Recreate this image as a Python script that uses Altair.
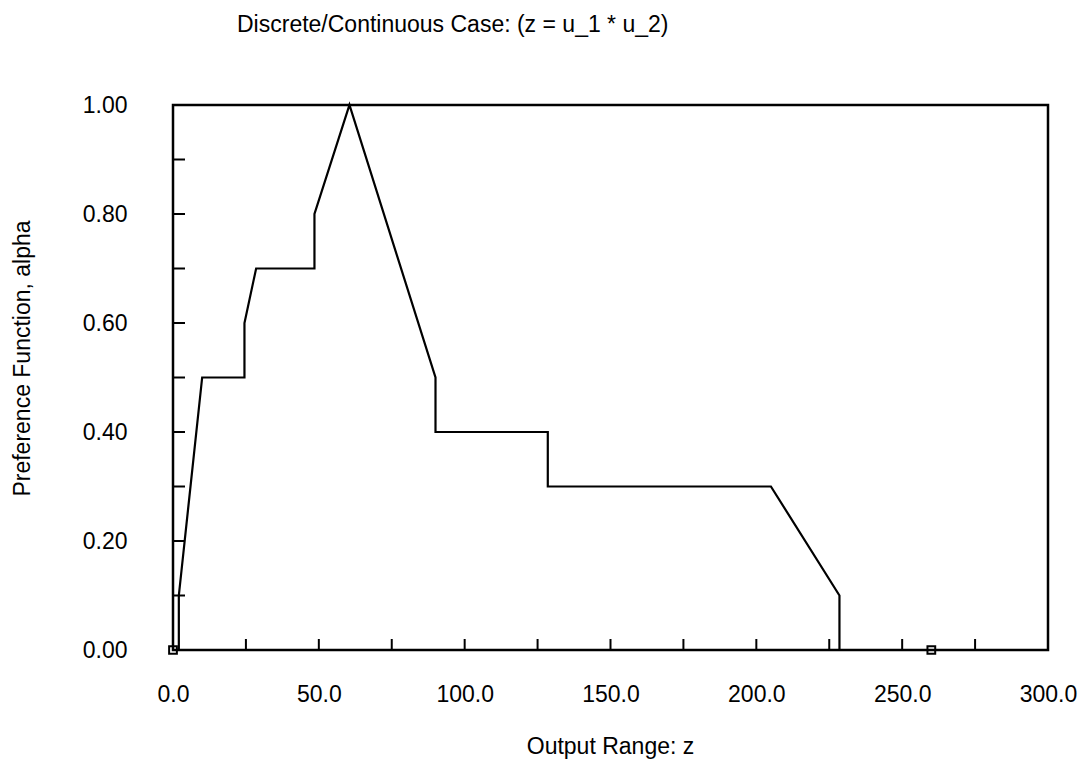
import altair as alt
import pandas as pd

# Curve vertices
z_vals = [0, 2, 2, 10, 24.5, 24.5, 28.5, 48.5, 48.5, 60.5, 90, 90, 128.5, 128.5, 205, 228.5, 228.5]
a_vals = [0, 0, 0.1, 0.5, 0.5, 0.6, 0.7, 0.7, 0.8, 1.0, 0.5, 0.4, 0.4, 0.3, 0.3, 0.1, 0]

# Square markers
sq_z = [0, 260]
sq_a = [0, 0]

# Tick positions / labels
x_labels = [0, 50, 100, 150, 200, 250, 300]
y_labels = [0, 0.2, 0.4, 0.6, 0.8, 1.0]
x_minor = [25, 50, 75, 100, 125, 150, 175, 200, 225, 250, 275]
y_minor = [0.1, 0.2, 0.3, 0.4, 0.5, 0.6, 0.7, 0.8, 0.9]

FONT = "Liberation Sans"
FS = 23
W, H = 875, 545

line_df = pd.DataFrame({"z": z_vals, "a": a_vals, "i": list(range(len(z_vals)))})
sq_df = pd.DataFrame({"z": sq_z, "a": sq_a})
xt_df = pd.DataFrame({"z": x_minor})
yt_df = pd.DataFrame({"a": y_minor})

xscale = alt.Scale(domain=[0, 300], nice=False, zero=False)
yscale = alt.Scale(domain=[0, 1], nice=False, zero=False)

xaxis = alt.Axis(
    values=x_labels, format=".1f", ticks=False, tickSize=0, domain=False, grid=False,
    labelPadding=33, labelFlush=False, labelFont=FONT, labelFontSize=FS, labelColor="black",
    title="Output Range: z", titleFont=FONT, titleFontSize=FS, titleFontWeight="normal",
    titleColor="black", titleX=437, titleY=85, titleAlign="center", titleBaseline="top",
)
yaxis = alt.Axis(
    values=y_labels, format=".2f", ticks=False, tickSize=0, domain=False, grid=False,
    labelPadding=46, labelFlush=False, labelFont=FONT, labelFontSize=FS, labelColor="black",
    title="Preference Function, alpha", titleFont=FONT, titleFontSize=FS,
    titleFontWeight="normal", titleColor="black", titleAngle=-90, titleX=-151, titleY=253,
    titleAlign="center", titleBaseline="middle",
)

line = alt.Chart(line_df).mark_line(color="black", strokeWidth=2.2).encode(
    x=alt.X("z:Q", scale=xscale, axis=xaxis),
    y=alt.Y("a:Q", scale=yscale, axis=yaxis),
    order="i:Q",
)

squares = alt.Chart(sq_df).mark_point(
    shape="square", filled=False, color="black", size=60, strokeWidth=2, opacity=1
).encode(
    x=alt.X("z:Q", scale=xscale, axis=xaxis),
    y=alt.Y("a:Q", scale=yscale, axis=yaxis),
)

xticks = alt.Chart(xt_df).mark_rule(color="black", strokeWidth=2).encode(
    x=alt.X("z:Q", scale=xscale, axis=xaxis),
    y=alt.value(H),
    y2=alt.value(H - 11),
)

yticks = alt.Chart(yt_df).mark_rule(color="black", strokeWidth=2).encode(
    y=alt.Y("a:Q", scale=yscale, axis=yaxis),
    x=alt.value(0),
    x2=alt.value(12),
)

chart = alt.layer(line, xticks, yticks, squares).properties(
    width=W,
    height=H,
    background="white",
    title=alt.TitleParams(
        "Discrete/Continuous Case: (z = u_1 * u_2)",
        anchor="start", frame="group", dx=64, offset=57, font=FONT, fontSize=FS,
        fontWeight="normal", color="black",
    ),
    autosize=alt.AutoSizeParams(type="none"),
    padding={"left": 173, "top": 105, "right": 39, "bottom": 112},
).configure_view(stroke="black", strokeWidth=2.5)

chart.save("out.html", embed_options={"renderer": "svg", "actions": False})
